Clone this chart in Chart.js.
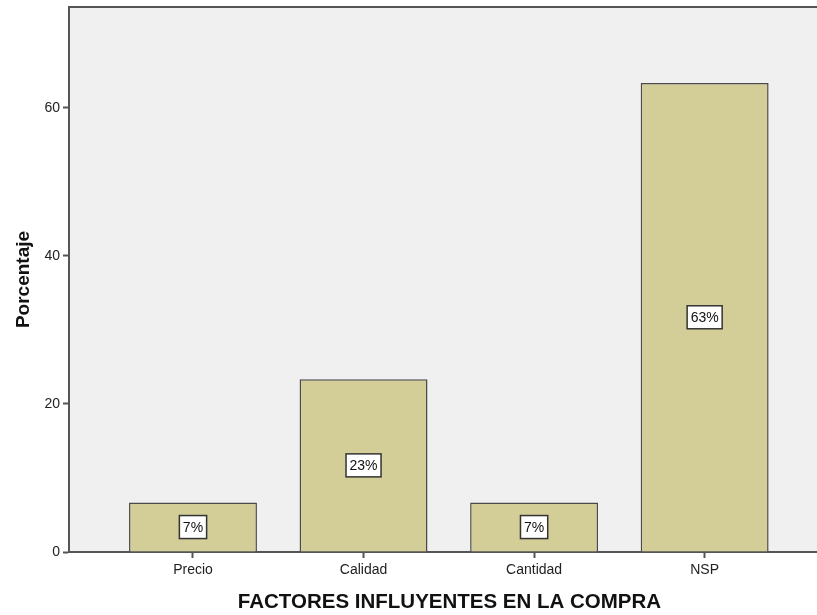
<!DOCTYPE html>
<html>
<head>
<meta charset="utf-8">
<script src="https://cdn.jsdelivr.net/npm/chart.js@4/dist/chart.umd.min.js"></script>
<style>
  html, body { margin: 0; padding: 0; background: #fff; overflow: hidden; }
  #wrap { width: 840px; height: 615px; position: relative; }
</style>
</head>
<body>
<div id="wrap"><canvas id="barChart"></canvas></div>
<script>
const categories = ["Precio", "Calidad", "Cantidad", "NSP"];
const percentValues = [6.67, 23.33, 6.67, 63.33];
const yTicks = [0, 20, 40, 60];

const frameColor = "#555555";
const fontFamily = "'Liberation Sans', Arial, sans-serif";

// plot background + top frame line
const framePlugin = {
  id: "frame",
  beforeDraw(chart) {
    const { ctx, chartArea: a } = chart;
    ctx.save();
    ctx.fillStyle = "#f0f0f0";
    ctx.fillRect(a.left, a.top, a.right - a.left, a.bottom - a.top);
    ctx.strokeStyle = frameColor;
    ctx.lineWidth = 2;
    ctx.beginPath();
    ctx.moveTo(a.left, a.top);
    ctx.lineTo(a.right, a.top);
    ctx.stroke();
    ctx.restore();
  },
};

// white boxed percent labels at bar middles
const boxLabels = {
  id: "boxLabels",
  afterDatasetsDraw(chart) {
    const { ctx } = chart;
    const meta = chart.getDatasetMeta(0);
    ctx.save();
    ctx.font = "14px " + fontFamily;
    ctx.textAlign = "center";
    ctx.textBaseline = "middle";
    meta.data.forEach((bar, i) => {
      const text = Math.round(percentValues[i]) + "%";
      const cy = (bar.y + bar.base) / 2;
      const w = ctx.measureText(text).width + 7;
      const h = 23;
      ctx.fillStyle = "#ffffff";
      ctx.fillRect(bar.x - w / 2, cy - h / 2, w, h);
      ctx.strokeStyle = "#333333";
      ctx.lineWidth = 1.5;
      ctx.strokeRect(bar.x - w / 2, cy - h / 2, w, h);
      ctx.fillStyle = "#111111";
      ctx.fillText(text, bar.x, cy + 1);
    });
    ctx.restore();
  },
};

const ctx = document.getElementById("barChart").getContext("2d");
new Chart(ctx, {
  type: "bar",
  data: {
    datasets: [
      {
        data: percentValues.map((v, i) => ({ x: i, y: v })),
        backgroundColor: "#d3ce97",
        borderColor: "#4a4a4a",
        borderWidth: 1.5,
        barPercentage: 0.75,
        categoryPercentage: 1,
      },
    ],
  },
  options: {
    responsive: true,
    maintainAspectRatio: false,
    animation: false,
    layout: { padding: { top: 7, right: 10, left: 0, bottom: 0 } },
    scales: {
      x: {
        type: "linear",
        offset: false,
        min: -0.727,
        max: 3.735,
        afterFit: (scale) => {
          scale.height = 63;
          scale.paddingLeft = 0;
          scale.paddingRight = 0;
        },
        afterBuildTicks: (axis) => {
          axis.ticks = categories.map((c, i) => ({ value: i }));
        },
        grid: {
          offset: false,
          drawOnChartArea: false,
          drawTicks: true,
          tickLength: 6,
          tickWidth: 2,
          tickColor: frameColor,
        },
        border: { color: frameColor, width: 2 },
        ticks: {
          autoSkip: false,
          maxRotation: 0,
          padding: 4,
          color: "#222",
          font: { family: fontFamily, size: 14 },
          callback: (v) => categories[v] || "",
        },
        title: {
          display: true,
          text: "FACTORES INFLUYENTES EN LA COMPRA",
          color: "#111",
          font: { family: fontFamily, size: 20.5, weight: "bold" },
          padding: { top: 4, bottom: 0 },
        },
      },
      y: {
        min: 0,
        max: 73.6,
        afterFit: (scale) => {
          scale.width = 69;
          scale.paddingTop = 0;
          scale.paddingBottom = 0;
        },
        afterBuildTicks: (axis) => {
          axis.ticks = yTicks.map((v) => ({ value: v }));
        },
        grid: {
          drawOnChartArea: false,
          drawTicks: true,
          tickLength: 6,
          tickWidth: 2,
          tickColor: frameColor,
        },
        border: { color: frameColor, width: 2 },
        ticks: {
          padding: 3,
          color: "#222",
          font: { family: fontFamily, size: 14 },
        },
        title: {
          display: true,
          text: "Porcentaje",
          color: "#111",
          font: { family: fontFamily, size: 19, weight: "bold" },
          padding: { top: 12, bottom: 4 },
        },
      },
    },
    plugins: {
      legend: { display: false },
      tooltip: { enabled: false },
    },
  },
  plugins: [framePlugin, boxLabels],
});
</script>
</body>
</html>
